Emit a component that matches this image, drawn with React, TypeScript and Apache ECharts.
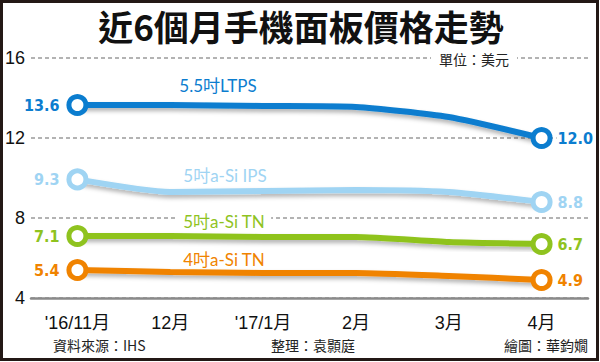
import React, { useEffect, useRef } from "react";
import * as echarts from "echarts";

const categories = ["'16/11月", "12月", "'17/1月", "2月", "3月", "4月"];
const seriesNames = ["5.5吋LTPS", "5吋a-Si IPS", "5吋a-Si TN", "4吋a-Si TN"];
const ltps = [13.65, 13.65, 13.6, 13.55, 13.05, 12.0];
const ips = [9.93, 9.3, 9.35, 9.4, 9.3, 8.8];
const tn5 = [7.1, 7.1, 7.05, 7.05, 6.8, 6.7];
const tn4 = [5.4, 5.3, 5.25, 5.25, 5.1, 4.9];
const startLabels = ["13.6", "9.3", "7.1", "5.4"];
const endLabels = ["12.0", "8.8", "6.7", "4.9"];
const yMin = 4;
const yMax = 16;
const yStep = 4;
const colors = ["#0b7dcf", "#9fd4f3", "#8fc31f", "#f08300"];

const numFont = "'Liberation Sans Narrow', 'DejaVu Sans Condensed', 'Liberation Sans', sans-serif";
const cjk = "'Noto Sans CJK TC', 'Noto Sans CJK SC', sans-serif";
const latin = "Lato, 'Noto Sans CJK TC', sans-serif";

export default function App() {
  const ref = useRef<HTMLDivElement>(null);
  useEffect(() => {
    if (!ref.current) return;
    const chart = echarts.init(ref.current, undefined, { renderer: "svg" });
    const all = [ltps, ips, tn5, tn4];
    const series = all.map((vals, si) => ({
      type: "line",
      name: seriesNames[si],
      z: 10 - si,
      smooth: 0.2,
      lineStyle: {
        color: colors[si],
        width: 6,
        shadowColor: "rgba(0,0,0,0.3)",
        shadowBlur: 4,
        shadowOffsetY: 3,
      },
      itemStyle: { color: "#fff", borderColor: colors[si], borderWidth: 5 },
      symbolSize: 17,
      data: vals.map((v, i) => {
        const first = i === 0;
        const last = i === vals.length - 1;
        if (!first && !last) return { value: v, symbol: "none" };
        return {
          value: v,
          symbol: "circle",
          label: {
            show: true,
            position: first ? "left" : "right",
            distance: first ? 6 : 4,
            formatter: first ? startLabels[si] : endLabels[si],
            color: colors[si],
            fontFamily: numFont,
            fontWeight: "bold",
            fontSize: 16,
            backgroundColor: "#fff",
            padding: [0, 1],
          },
        };
      }),
    }));
    chart.setOption({
      animation: false,
      grid: { left: 31, right: 12, top: 58, bottom: 64 },
      xAxis: {
        type: "category",
        data: categories,
        boundaryGap: true,
        axisLine: { lineStyle: { color: "#8a8a8a", width: 2.5 } },
        axisTick: { alignWithLabel: true, length: 10, lineStyle: { color: "#8a8a8a", width: 2 } },
        axisLabel: { margin: 16, fontSize: 18, color: "#111", fontFamily: "'Liberation Sans', Arial, " + cjk },
      },
      yAxis: {
        type: "value",
        min: yMin,
        max: yMax,
        interval: yStep,
        axisLine: { show: false },
        axisTick: { show: false },
        axisLabel: { margin: 6, fontSize: 18, color: "#111", fontFamily: "'Liberation Sans', Arial, sans-serif" },
        splitLine: { lineStyle: { color: "#9a9a9a", width: 1.5, type: [4, 3] } },
      },
      series,
      graphic: [
        {
          type: "rect",
          z: 100,
          shape: { x: 1.5, y: 1.5, width: 596, height: 358 },
          style: { fill: "none", stroke: "#231815", lineWidth: 3 },
        },
        {
          type: "text",
          z: 50,
          style: { text: "近6個月手機面板價格走勢", x: 301, y: 25, textAlign: "center", textVerticalAlign: "middle", fill: "#111", font: "bold 35px " + cjk, lineHeight: 35 },
        },
        {
          type: "text",
          z: 50,
          style: { text: "單位：美元", x: 474, y: 59, textAlign: "center", textVerticalAlign: "middle", fill: "#222", font: "14px " + cjk, lineHeight: 14, backgroundColor: "#fff", padding: [0, 8] },
        },
        {
          type: "text",
          z: 50,
          style: { text: seriesNames[0], x: 218, y: 85, textAlign: "center", textVerticalAlign: "middle", fill: colors[0], font: "17px " + latin },
        },
        {
          type: "text",
          z: 50,
          style: { text: seriesNames[1], x: 225, y: 175, textAlign: "center", textVerticalAlign: "middle", fill: colors[1], font: "17px " + latin },
        },
        {
          type: "text",
          z: 50,
          style: { text: seriesNames[2], x: 224, y: 221, textAlign: "center", textVerticalAlign: "middle", fill: colors[2], font: "17px " + latin, backgroundColor: "#fff", padding: [1, 6] },
        },
        {
          type: "text",
          z: 50,
          style: { text: seriesNames[3], x: 224, y: 259, textAlign: "center", textVerticalAlign: "middle", fill: colors[3], font: "17px " + latin },
        },
        {
          type: "text",
          z: 50,
          style: { text: "資料來源：IHS", x: 53, y: 345, textAlign: "left", textVerticalAlign: "middle", fill: "#222", font: "14px " + cjk },
        },
        {
          type: "text",
          z: 50,
          style: { text: "整理：袁顥庭", x: 355, y: 345, textAlign: "right", textVerticalAlign: "middle", fill: "#222", font: "14px " + cjk },
        },
        {
          type: "text",
          z: 50,
          style: { text: "繪圖：華鈞嫺", x: 588, y: 345, textAlign: "right", textVerticalAlign: "middle", fill: "#222", font: "14px " + cjk },
        },
      ],
    });
    return () => chart.dispose();
  }, []);
  return (
    <div
      ref={ref}
      style={{ position: "absolute", left: 0, top: 0, width: 600, height: 362, background: "#fff" }}
    />
  );
}
